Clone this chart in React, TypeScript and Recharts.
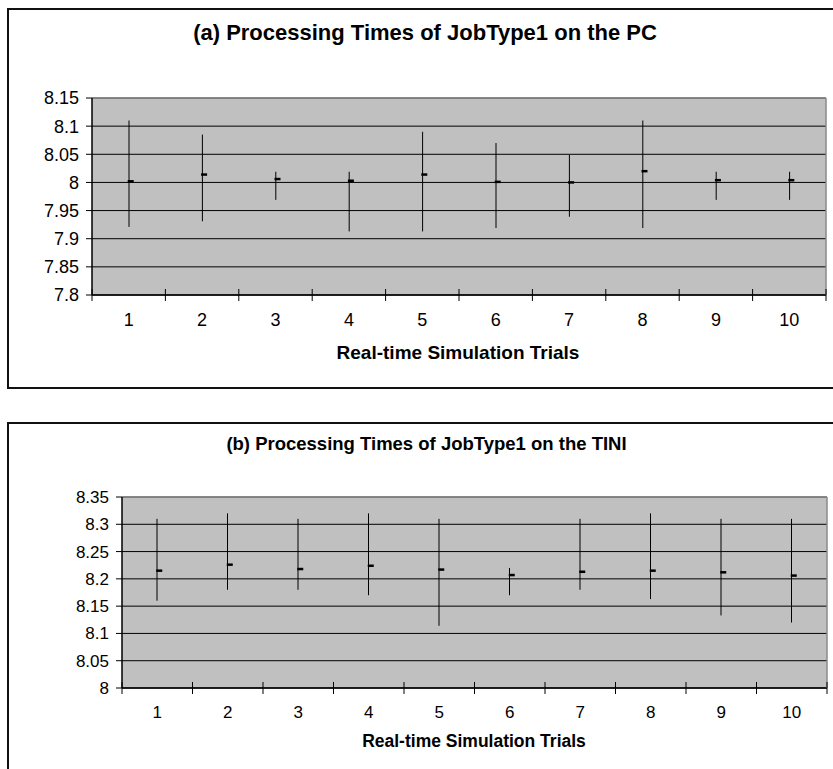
import React from 'react';
import { ComposedChart, Bar, Line, XAxis, YAxis, CartesianGrid, ReferenceLine } from 'recharts';

const trials = ['1', '2', '3', '4', '5', '6', '7', '8', '9', '10'];

const pcHigh = [8.11, 8.085, 8.019, 8.019, 8.09, 8.07, 8.049, 8.11, 8.019, 8.019];
const pcLow = [7.921, 7.931, 7.969, 7.913, 7.913, 7.919, 7.939, 7.919, 7.969, 7.969];
const pcClose = [8.002, 8.014, 8.006, 8.003, 8.014, 8.001, 8.0, 8.02, 8.004, 8.004];
const pcTicks = [7.8, 7.85, 7.9, 7.95, 8, 8.05, 8.1, 8.15];

const tiniHigh = [8.31, 8.32, 8.31, 8.32, 8.31, 8.22, 8.31, 8.32, 8.31, 8.31];
const tiniLow = [8.16, 8.18, 8.18, 8.17, 8.114, 8.17, 8.18, 8.163, 8.133, 8.12];
const tiniClose = [8.215, 8.226, 8.218, 8.224, 8.217, 8.207, 8.213, 8.215, 8.212, 8.206];
const tiniTicks = [8, 8.05, 8.1, 8.15, 8.2, 8.25, 8.3, 8.35];

const FONT = '"Liberation Sans", Arial, sans-serif';

type PanelCfg = {
  top: number;
  height: number;
  plotLeft: number;
  plotRight: number;
  plotTop: number;
  plotBottom: number;
  tickFont: number;
  tickMargin: number;
  labelOffset: number;
};

function Panel(props: {
  high: number[];
  low: number[];
  close: number[];
  ticks: number[];
  cfg: PanelCfg;
}) {
  const { high, low, close, ticks, cfg } = props;
  const data = trials.map((t, i) => ({ trial: t, range: [low[i], high[i]], close: close[i] }));
  const W = 833;
  const bw = (cfg.plotRight - cfg.plotLeft) / trials.length;
  const domain: [number, number] = [ticks[0], ticks[ticks.length - 1]];

  const XTick = (p: any) => {
    const { x, y, payload, index } = p;
    return (
      <g>
        <line x1={x - bw / 2} x2={x - bw / 2} y1={y - 6} y2={y + 6} stroke="#000" strokeWidth={1} />
        {index === trials.length - 1 ? (
          <line x1={x + bw / 2} x2={x + bw / 2} y1={y - 6} y2={y + 6} stroke="#000" strokeWidth={1} />
        ) : null}
        <text
          x={x}
          y={y + cfg.labelOffset}
          textAnchor="middle"
          dominantBaseline="central"
          fontSize={cfg.tickFont}
          fontFamily={FONT}
          fill="#000"
        >
          {payload.value}
        </text>
      </g>
    );
  };

  const rangeShape = (p: any) => {
    const { x, y, width, height } = p;
    const cx = x + width / 2;
    const y1 = Math.min(y, y + height);
    const y2 = Math.max(y, y + height);
    return <line x1={cx} x2={cx} y1={y1} y2={y2} stroke="#000" strokeWidth={1} />;
  };

  const closeDot = (p: any) => {
    const { cx, cy, index } = p;
    return <rect key={'d' + index} x={cx - 1} y={cy - 1.25} width={6} height={2.5} fill="#000" />;
  };

  return (
    <div style={{ position: 'absolute', left: 0, top: cfg.top, width: W, height: cfg.height }}>
      <ComposedChart
        width={W}
        height={cfg.height}
        data={data}
        margin={{ top: cfg.plotTop - cfg.top, right: W - cfg.plotRight - 1, bottom: 0, left: 0 }}
      >
        <CartesianGrid
          yAxisId="v"
          vertical={false}
          fill="#C0C0C0"
          fillOpacity={1}
          stroke="#000"
          strokeWidth={1}
        />
        <XAxis
          dataKey="trial"
          type="category"
          height={cfg.top + cfg.height - cfg.plotBottom}
          tickSize={0}
          tickMargin={0}
          tickLine={false}
          axisLine={{ stroke: '#000', strokeWidth: 1.5 }}
          tick={XTick}
          interval={0}
        />
        <YAxis
          yAxisId="v"
          type="number"
          domain={domain}
          ticks={ticks}
          allowDataOverflow
          width={cfg.plotLeft}
          tickSize={6}
          tickMargin={cfg.tickMargin}
          tickLine={{ stroke: '#000' }}
          axisLine={{ stroke: '#000', strokeWidth: 1.5 }}
          tick={{ fontSize: cfg.tickFont, fill: '#000', fontFamily: FONT }}
          tickFormatter={(v: number) => String(v)}
          interval={0}
        />
        <YAxis
          yAxisId="frame"
          orientation="right"
          type="number"
          domain={domain}
          width={1}
          tick={false}
          tickLine={false}
          axisLine={{ stroke: '#8a8a8a', strokeWidth: 1.5 }}
        />
        <ReferenceLine yAxisId="v" y={domain[1]} stroke="#8a8a8a" strokeWidth={1.5} />
        <Bar yAxisId="v" dataKey="range" barSize={2} shape={rangeShape} isAnimationActive={false} />
        <Line
          yAxisId="v"
          dataKey="close"
          stroke="none"
          dot={closeDot}
          activeDot={false}
          isAnimationActive={false}
        />
      </ComposedChart>
    </div>
  );
}

function Text(props: { cx: number; cy: number; size: number; bold?: boolean; children: React.ReactNode }) {
  const { cx, cy, size, bold, children } = props;
  return (
    <div
      style={{
        position: 'absolute',
        left: cx - 400,
        width: 800,
        top: cy - size,
        height: size * 2,
        lineHeight: size * 2 + 'px',
        textAlign: 'center',
        fontFamily: FONT,
        fontSize: size,
        fontWeight: bold ? 'bold' : 'normal',
        color: '#000',
        whiteSpace: 'nowrap',
      }}
    >
      {children}
    </div>
  );
}

const topCfg: PanelCfg = {
  top: 0,
  height: 388,
  plotLeft: 92,
  plotRight: 826,
  plotTop: 98,
  plotBottom: 295,
  tickFont: 18,
  tickMargin: 7,
  labelOffset: 25,
};

const bottomCfg: PanelCfg = {
  top: 400,
  height: 369,
  plotLeft: 122,
  plotRight: 827,
  plotTop: 497,
  plotBottom: 688,
  tickFont: 17,
  tickMargin: 7,
  labelOffset: 24,
};

export default function App() {
  return (
    <div style={{ position: 'absolute', left: 0, top: 0, width: 833, height: 769, overflow: 'hidden', background: '#fff' }}>
      <div
        style={{
          position: 'absolute',
          left: 7,
          top: 8,
          width: 845,
          height: 381,
          boxSizing: 'border-box',
          border: '2px solid #111',
        }}
      />
      <div
        style={{
          position: 'absolute',
          left: 7,
          top: 422,
          width: 845,
          height: 420,
          boxSizing: 'border-box',
          border: '2px solid #111',
        }}
      />
      <Panel high={pcHigh} low={pcLow} close={pcClose} ticks={pcTicks} cfg={topCfg} />
      <Panel high={tiniHigh} low={tiniLow} close={tiniClose} ticks={tiniTicks} cfg={bottomCfg} />
      <Text cx={425} cy={33} size={22} bold>
        (a) Processing Times of JobType1 on the PC
      </Text>
      <Text cx={458} cy={353} size={19} bold>
        Real-time Simulation Trials
      </Text>
      <Text cx={426.5} cy={443} size={18.5} bold>
        (b) Processing Times of JobType1 on the TINI
      </Text>
      <Text cx={474} cy={741} size={17.5} bold>
        Real-time Simulation Trials
      </Text>
    </div>
  );
}
